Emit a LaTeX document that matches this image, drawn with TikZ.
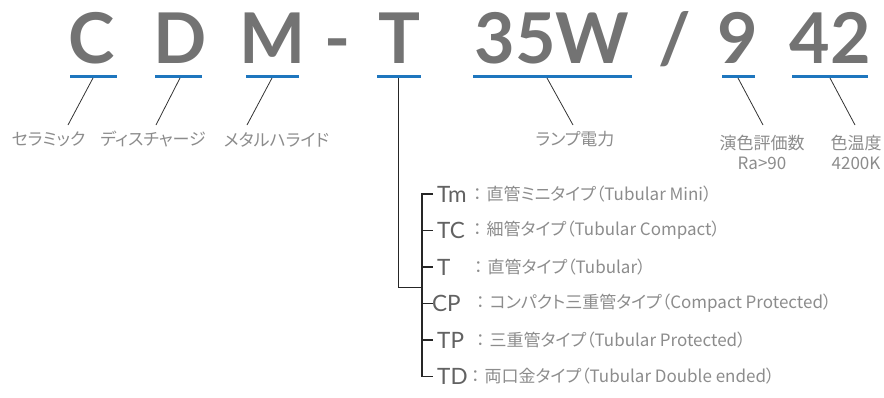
\documentclass[tikz,border=0pt]{standalone}
\usepackage{fontspec}
\setmainfont{Lato}
\newfontfamily\jpfont[RawFeature=+palt]{Noto Sans CJK JP}
\usetikzlibrary{positioning,calc}
\definecolor{codeblue}{RGB}{30,118,190}
\definecolor{bigtext}{RGB}{115,115,115}
\definecolor{labeltext}{RGB}{140,140,140}

\begin{document}
\begin{tikzpicture}[x=1pt, y=-1pt,
    big/.style={inner sep=0pt, anchor=base, text=bigtext, font=\bfseries\fontsize{70}{70}\selectfont},
    uline/.style={codeblue, line width=3pt},
    leader/.style={black!80, line width=0.8pt},
    jplabel/.style={inner sep=0pt, align=center, text=labeltext, font=\jpfont\fontsize{17}{20}\selectfont},
    code/.style={inner sep=0pt, anchor=west, text=bigtext!85!black, font=\fontsize{22.5}{22}\selectfont},
    desc/.style={inner sep=0pt, anchor=west, text=labeltext, font=\jpfont\fontsize{17}{20}\selectfont},
    tline/.style={black!85, line width=1pt},
    bracket/.style={black!85, line width=1.8pt}]

    \useasboundingbox (0,0) rectangle (884,397);

    
    \node[big] (C) at (92,63) {C};
    \node[big] (D) at (180,63) {D};
    \node[big] (M) at (273,63) {M};
    \node[big] (hy) at (338,63) {-};
    \node[big] (T) at (399,63) {T};
    \node[big] (watt) at (552,63) {35W};
    \node[big] (sl) at (675,63) {/};
    \node[big] (ra) at (738,63) {9};
    \node[big] (cct) at (830,63) {42};

    
    \draw[uline] (70,76) -- (117,76);
    \draw[uline] (155,76) -- (202,76);
    \draw[uline] (246,76) -- (299,76);
    \draw[uline] (377,76) -- (421,76);
    \draw[uline] (473,76) -- (632,76);
    \draw[uline] (722,76) -- (755,76);
    \draw[uline] (792,76) -- (868,76);

    
    \node[jplabel] (lC) at (48.5,139.5) {セラミック};
    \node[jplabel] (lD) at (153,139.5) {ディスチャージ};
    \node[jplabel] (lM) at (276.5,139.5) {メタルハライド};
    \node[jplabel] (lW) at (575,139) {ランプ電力};
    \node[jplabel] (lra) at (762,152) {演色評価数\\Ra>90};
    \node[jplabel] (lcct) at (856,152) {色温度\\4200K};

    
    \coordinate (uC) at (93,78);    \coordinate (eC) at (68,125);
    \coordinate (uD) at (180,78);   \coordinate (eD) at (156,125);
    \coordinate (uM) at (272,78);   \coordinate (eM) at (247,125);
    \coordinate (uW) at (547,78);   \coordinate (eW) at (573,125);
    \coordinate (ura) at (738,78);  \coordinate (era) at (763,125);
    \coordinate (ucct) at (830,78); \coordinate (ecct) at (855,125);
    \draw[leader] (uC) -- (eC);
    \draw[leader] (uD) -- (eD);
    \draw[leader] (uM) -- (eM);
    \draw[leader] (uW) -- (eW);
    \draw[leader] (ura) -- (era);
    \draw[leader] (ucct) -- (ecct);

    
    \node[code] (Tm) at (437,194) {Tm};
    \node[code] (TC) at (437,230.5) {TC};
    \node[code] (TT) at (437,267) {T};
    \node[code] (CP) at (432,303.5) {CP};
    \node[code] (TP) at (437,340) {TP};
    \node[code] (TD) at (437,376.5) {TD};

    \node[desc] (dTm) at (473,194) {：\hspace{5pt}直管ミニタイプ（Tubular Mini）};
    \node[desc] (dTC) at (473,230.5) {：\hspace{5pt}細管タイプ（Tubular Compact）};
    \node[desc] (dTT) at (474,267) {：\hspace{5pt}直管タイプ（Tubular）};
    \node[desc] (dCP) at (476,303.5) {：\hspace{5pt}コンパクト三重管タイプ（Compact Protected）};
    \node[desc] (dTP) at (476,340) {：\hspace{5pt}三重管タイプ（Tubular Protected）};
    \node[desc] (dTD) at (471,376.5) {：\hspace{5pt}両口金タイプ（Tubular Double ended）};

    
    \coordinate (uT) at (398,78);
    \coordinate (brk) at (422,287);
    \coordinate (tk) at (433,0);
    \draw[tline] (uT) |- (brk);
    \draw[bracket] (Tm.west -| tk) -- (Tm.west -| brk) -- (TD.west -| brk) -- (TD.west -| tk);
    \foreach \c in {TC,TT,CP,TP}
        \draw[bracket] (\c.west -| brk) -- (\c.west -| tk);
\end{tikzpicture}
\end{document}
